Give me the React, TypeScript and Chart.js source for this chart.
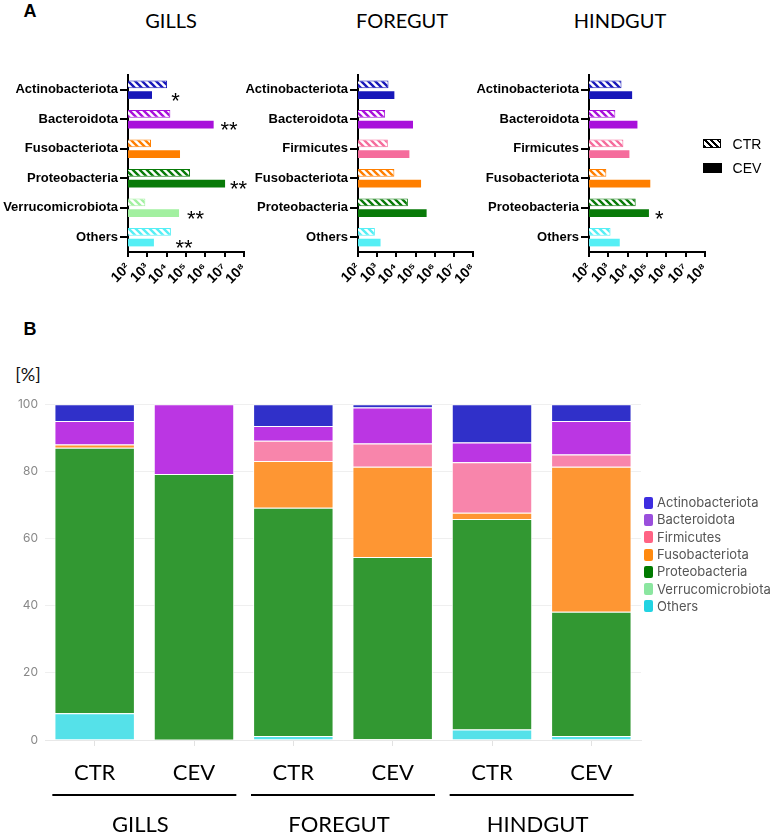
import React, { useEffect, useRef } from "react";
import { Chart, registerables } from "chart.js";
Chart.register(...registerables);

// ---------- Panel A data (absolute abundance, log scale) ----------
const gillsCategories = ["Actinobacteriota", "Bacteroidota", "Fusobacteriota", "Proteobacteria", "Verrucomicrobiota", "Others"];
const gillsCTR = [1.05e4, 1.55e4, 1.55e3, 1.62e5, 7.9e2, 1.66e4];
const gillsCEV = [1.74e3, 2.69e6, 4.9e4, 1.05e7, 4.37e4, 2.19e3];
const gillsStars = ["*", "**", "", "**", "**", "**"];
const gillsStarX = [2.9e4, 1.7e7, null, 5.2e7, 3.1e5, 7.9e4];

const gutCategories = ["Actinobacteriota", "Bacteroidota", "Firmicutes", "Fusobacteriota", "Proteobacteria", "Others"];
const foregutCTR = [3.9e3, 2.6e3, 3.6e3, 7.9e3, 4.0e4, 7.6e2];
const foregutCEV = [7.9e3, 7.4e4, 4.8e4, 1.95e5, 3.8e5, 1.5e3];
const foregutStars = ["", "", "", "", "", ""];
const foregutStarX = [null, null, null, null, null, null];

const hindgutCTR = [4.8e3, 2.3e3, 6.0e3, 7.9e2, 2.6e4, 1.3e3];
const hindgutCEV = [1.7e4, 3.2e4, 1.23e4, 1.48e5, 1.26e5, 3.9e3];
const hindgutStars = ["", "", "", "", "*", ""];
const hindgutStarX = [null, null, null, null, 4.3e5, null];

const logTicks = [1e2, 1e3, 1e4, 1e5, 1e6, 1e7, 1e8];
const supDigits: Record<number, string> = { 2: "²", 3: "³", 4: "⁴", 5: "⁵", 6: "⁶", 7: "⁷", 8: "⁸" };

// ---------- Panel B data (relative abundance, %) ----------
const sampleLabels = ["CTR", "CEV", "CTR", "CEV", "CTR", "CEV"];
const tissueLabels = ["GILLS", "FOREGUT", "HINDGUT"];
const pctOthers = [8.0, 0.1, 1.2, 0.2, 3.1, 1.2];
const pctVerrucomicrobiota = [0, 0, 0, 0, 0, 0];
const pctProteobacteria = [79.0, 79.1, 68.0, 54.3, 62.7, 37.0];
const pctFusobacteriota = [1.0, 0, 13.9, 26.9, 1.9, 43.2];
const pctFirmicutes = [0, 0, 6.0, 6.9, 15.0, 3.6];
const pctBacteroidota = [7.0, 20.8, 4.4, 10.7, 5.9, 10.0];
const pctActinobacteriota = [5.0, 0, 6.5, 1.0, 11.4, 5.0];

const legendTaxa = ["Actinobacteriota", "Bacteroidota", "Firmicutes", "Fusobacteriota", "Proteobacteria", "Verrucomicrobiota", "Others"];

// ---------- styles ----------
const colorA: Record<string, string> = {
  Actinobacteriota: "#1717b9",
  Bacteroidota: "#a811da",
  Firmicutes: "#f56c9c",
  Fusobacteriota: "#ff7f00",
  Proteobacteria: "#087a08",
  Verrucomicrobiota: "#a2f0a0",
  Others: "#55eff5",
};
const colorB: Record<string, string> = {
  Actinobacteriota: "#3030c9",
  Bacteroidota: "#bb36e3",
  Firmicutes: "#f885ab",
  Fusobacteriota: "#fe9633",
  Proteobacteria: "#329832",
  Verrucomicrobiota: "#92e8a8",
  Others: "#55e1e9",
};
const legendBoxB: Record<string, string> = {
  Actinobacteriota: "#3d2de0",
  Bacteroidota: "#9a4fdc",
  Firmicutes: "#ff6384",
  Fusobacteriota: "#ff8a10",
  Proteobacteria: "#007a00",
  Verrucomicrobiota: "#8be6a0",
  Others: "#22d3e2",
};

const ARIAL = '"Liberation Sans", Arial, sans-serif';
const LATO = 'Lato, "Open Sans", sans-serif';
const INTER = 'Inter, "Noto Sans", sans-serif';

function makeHatch(color: string) {
  const s = 7;
  const c = document.createElement("canvas");
  c.width = s;
  c.height = s;
  const x = c.getContext("2d")!;
  x.fillStyle = "#fff";
  x.fillRect(0, 0, s, s);
  x.strokeStyle = color;
  x.lineWidth = 2.4;
  x.lineCap = "square";
  x.beginPath();
  x.moveTo(-2, -2);
  x.lineTo(s + 2, s + 2);
  x.moveTo(-2, s - 2);
  x.lineTo(2, s + 2);
  x.moveTo(s - 2, -2);
  x.lineTo(s + 2, 2);
  x.stroke();
  return x.createPattern(c, "repeat")!;
}

const starPlugin = {
  id: "stars",
  afterDatasetsDraw(chart: any, _args: any, opts: any) {
    const stars: string[] = opts.stars || [];
    const starX: (number | null)[] = opts.starX || [];
    const meta = chart.getDatasetMeta(1);
    const ctx = chart.ctx;
    ctx.save();
    ctx.font = `22px ${ARIAL}`;
    ctx.fillStyle = "#000";
    ctx.textAlign = "center";
    ctx.textBaseline = "alphabetic";
    stars.forEach((s, i) => {
      const v = starX[i];
      if (!s || v == null) return;
      const px = chart.scales.x.getPixelForValue(v);
      const py = meta.data[i].y;
      ctx.fillText(s, px, py + 0.52 * 22 + 1);
    });
    ctx.restore();
  },
};

function makeHBar(canvas: HTMLCanvasElement, cats: string[], ctr: number[], cev: number[], stars: string[], starX: (number | null)[], yWidth: number) {
  const cols = cats.map((c) => colorA[c]);
  return new Chart(canvas, {
    type: "bar",
    data: {
      labels: cats,
      datasets: [
        { label: "CTR", data: ctr, backgroundColor: cols.map(makeHatch), borderColor: cols, borderWidth: 1, barPercentage: 0.72, categoryPercentage: 0.72 },
        { label: "CEV", data: cev, backgroundColor: cols, borderWidth: 0, barPercentage: 0.72, categoryPercentage: 0.72 },
      ],
    },
    options: {
      indexAxis: "y",
      animation: false,
      responsive: false,
      maintainAspectRatio: false,
      layout: { autoPadding: false, padding: { top: 10, right: 8, left: 0, bottom: 0 } },
      plugins: { legend: { display: false }, tooltip: { enabled: false }, stars: { stars, starX } } as any,
      scales: {
        x: {
          type: "logarithmic",
          min: 100,
          max: 1e8,
          afterBuildTicks: (s: any) => {
            s.ticks = logTicks.map((v) => ({ value: v }));
          },
          afterFit: (s: any) => {
            s.height = 40;
            s.paddingLeft = 0;
            s.paddingRight = 0;
          },
          ticks: {
            autoSkip: false,
            minRotation: 45,
            maxRotation: 45,
            color: "#000",
            padding: 3,
            font: { family: ARIAL, size: 14, weight: "bold" },
            callback: (v: any) => "10" + (supDigits[Math.round(Math.log10(Number(v)))] || ""),
          },
          grid: { drawOnChartArea: false, drawTicks: true, tickLength: 5, color: "#000", lineWidth: 2 },
          border: { display: true, color: "#000", width: 2 },
        },
        y: {
          afterFit: (s: any) => {
            s.width = yWidth;
          },
          ticks: { color: "#000", padding: 2, font: { family: ARIAL, size: 13, weight: "bold" } },
          grid: { offset: false, drawOnChartArea: false, drawTicks: true, tickLength: 8, color: "#000", lineWidth: 2 },
          border: { display: true, color: "#000", width: 2 },
        },
      } as any,
    },
    plugins: [starPlugin],
  } as any);
}

const groupPlugin = {
  id: "groups",
  afterDraw(chart: any) {
    const { ctx, chartArea } = chart;
    const x = chart.scales.x;
    ctx.save();
    tissueLabels.forEach((t, g) => {
      const x0 = x.getPixelForValue(2 * g);
      const x1 = x.getPixelForValue(2 * g + 1);
      const cx = (x0 + x1) / 2;
      const half = 92;
      ctx.strokeStyle = "#000";
      ctx.lineWidth = 2;
      ctx.beginPath();
      ctx.moveTo(cx - half, chartArea.bottom + 55);
      ctx.lineTo(cx + half, chartArea.bottom + 55);
      ctx.stroke();
      ctx.fillStyle = "#000";
      ctx.font = `22px ${LATO}`;
      ctx.textAlign = "center";
      ctx.textBaseline = "middle";
      ctx.fillText(t, cx - 4, chartArea.bottom + 85);
    });
    ctx.restore();
  },
};

function makeStack(canvas: HTMLCanvasElement) {
  const series: [string, number[]][] = [
    ["Others", pctOthers],
    ["Verrucomicrobiota", pctVerrucomicrobiota],
    ["Proteobacteria", pctProteobacteria],
    ["Fusobacteriota", pctFusobacteriota],
    ["Firmicutes", pctFirmicutes],
    ["Bacteroidota", pctBacteroidota],
    ["Actinobacteriota", pctActinobacteriota],
  ];
  return new Chart(canvas, {
    type: "bar",
    data: {
      labels: sampleLabels,
      datasets: series.map(([name, vals]) => ({
        label: name,
        data: vals,
        backgroundColor: colorB[name],
        borderColor: "rgba(255,255,255,0.85)",
        borderWidth: 1,
        barPercentage: 0.81,
        categoryPercentage: 1,
        stack: "s",
      })),
    },
    options: {
      animation: false,
      responsive: false,
      maintainAspectRatio: false,
      layout: { autoPadding: false, padding: { top: 10, right: 9, left: 0, bottom: 0 } },
      plugins: { legend: { display: false }, tooltip: { enabled: false } },
      scales: {
        x: {
          stacked: true,
          afterFit: (s: any) => {
            s.height = 94;
          },
          ticks: { color: "#000", padding: 14, font: { family: LATO, size: 22 } },
          grid: { offset: false, drawOnChartArea: false, drawTicks: true, tickLength: 6, color: "#e2e2e2" },
          border: { display: true, color: "#e8e8e8" },
        },
        y: {
          stacked: true,
          min: 0,
          max: 100,
          afterFit: (s: any) => {
            s.width = 45;
          },
          ticks: { stepSize: 20, color: "#888", padding: 7, font: { family: INTER, size: 12 } },
          grid: { color: "#efefef", drawTicks: false },
          border: { display: false },
        },
      } as any,
    },
    plugins: [groupPlugin],
  } as any);
}

const abs = (left: number, top: number): React.CSSProperties => ({ position: "absolute", left, top });
const centered = (cx: number, cy: number, font: string, size: number, weight = "normal", color = "#000"): React.CSSProperties => ({
  position: "absolute",
  left: cx,
  top: cy,
  transform: "translate(-50%, -50%)",
  fontFamily: font,
  fontSize: size,
  fontWeight: weight as any,
  lineHeight: 1,
  color,
  whiteSpace: "nowrap",
});

export default function App() {
  const gRef = useRef<HTMLCanvasElement>(null);
  const fRef = useRef<HTMLCanvasElement>(null);
  const hRef = useRef<HTMLCanvasElement>(null);
  const bRef = useRef<HTMLCanvasElement>(null);

  useEffect(() => {
    const charts = [
      makeHBar(gRef.current!, gillsCategories, gillsCTR, gillsCEV, gillsStars, gillsStarX, 128),
      makeHBar(fRef.current!, gutCategories, foregutCTR, foregutCEV, foregutStars, foregutStarX, 125),
      makeHBar(hRef.current!, gutCategories, hindgutCTR, hindgutCEV, hindgutStars, hindgutStarX, 125),
      makeStack(bRef.current!),
    ];
    return () => charts.forEach((c) => c.destroy());
  }, []);

  return (
    <div style={{ position: "absolute", left: 0, top: 0, width: 770, height: 834, background: "#fff", overflow: "hidden" }}>
      {/* Panel A */}
      <div style={centered(30, 11, ARIAL, 18, "bold")}>A</div>
      <div style={centered(171, 20, LATO, 20)}>GILLS</div>
      <div style={centered(402, 20, LATO, 20)}>FOREGUT</div>
      <div style={centered(620, 20, LATO, 20)}>HINDGUT</div>
      <canvas ref={gRef} width={252} height={227} style={abs(0, 65)} />
      <canvas ref={fRef} width={248} height={227} style={abs(233, 65)} />
      <canvas ref={hRef} width={249} height={227} style={abs(464, 65)} />
      {/* Panel A legend */}
      <div
        style={{
          ...abs(703, 139),
          width: 16,
          height: 7,
          border: "1.5px solid #000",
          background: "repeating-linear-gradient(45deg, #000 0px, #000 2px, #fff 2px, #fff 4.5px)",
        }}
      />
      <div style={{ ...centered(747, 144, ARIAL, 14) }}>CTR</div>
      <div style={{ ...abs(703, 163), width: 19, height: 10, background: "#000" }} />
      <div style={{ ...centered(747, 168, ARIAL, 14) }}>CEV</div>

      {/* Panel B */}
      <div style={centered(30, 329, ARIAL, 18, "bold")}>B</div>
      <div style={centered(28, 374, LATO, 18, "normal", "#111")}>[%]</div>
      <canvas ref={bRef} width={650} height={444} style={abs(0, 390)} />
      <div style={{ ...abs(644, 494), display: "flex", flexDirection: "column" }}>
        {legendTaxa.map((t) => (
          <div key={t} style={{ display: "flex", alignItems: "center", height: 17.3 }}>
            <div style={{ width: 9, height: 12, borderRadius: 2, background: legendBoxB[t], marginRight: 4 }} />
            <span style={{ fontFamily: INTER, fontSize: 13, color: "#555", lineHeight: 1, whiteSpace: "nowrap" }}>{t}</span>
          </div>
        ))}
      </div>
    </div>
  );
}
